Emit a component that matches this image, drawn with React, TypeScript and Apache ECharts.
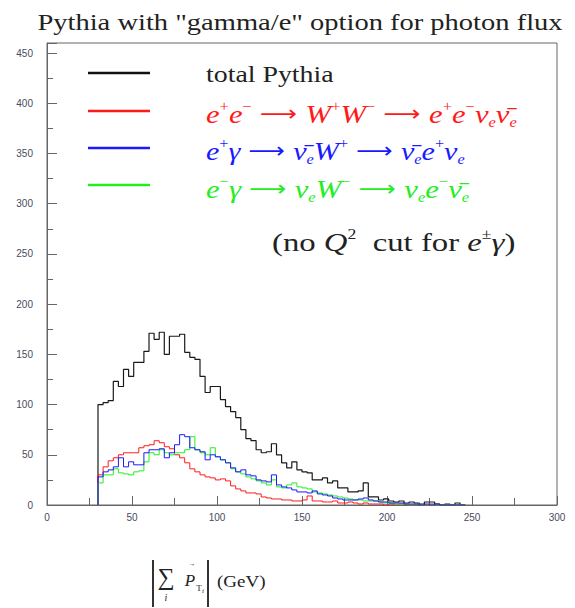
import React, { useEffect, useRef } from "react";
import * as echarts from "echarts";

// Histogram binning (GeV)
const binStart = 30;
const binWidth = 3;

// Bin contents (72 bins, 30 → 246 GeV)
const totalPythia = [100, 102, 104, 123, 118, 135, 128, 142, 142, 153, 171, 165, 172, 150, 168, 168, 170, 152, 147, 145, 128, 112, 118, 118, 105, 98, 93, 87, 75, 66, 64, 55, 52, 53, 61, 50, 42, 37, 43, 35, 33, 32, 25, 25, 27, 22, 24, 17, 17, 13, 13, 14, 22, 8, 8, 5, 6, 4, 3, 4, 2, 3, 2, 1, 3, 3, 1, 0, 1, 0, 2, 0];
const eeWW = [30, 38, 44, 47, 50, 52, 52, 52, 57, 59, 60, 64, 62, 58, 56, 50, 47, 42, 36, 33, 30, 28, 27, 25, 26, 24, 19, 16, 14, 12, 12, 11, 8, 7, 6, 6, 5, 5, 4, 4, 5, 9, 4, 4, 3, 3, 4, 2, 2, 3, 2, 1, 2, 1, 1, 1, 0, 1, 0, 1, 0, 0, 1, 0, 0, 1, 0, 0, 0, 0, 0, 0];
const epGamma = [28, 33, 35, 38, 47, 38, 43, 40, 40, 52, 55, 55, 56, 47, 52, 60, 70, 68, 57, 55, 53, 45, 50, 48, 45, 42, 37, 33, 35, 30, 29, 25, 24, 23, 30, 20, 18, 17, 15, 13, 13, 12, 14, 11, 10, 9, 7, 6, 5, 5, 5, 6, 7, 5, 4, 3, 3, 2, 2, 2, 1, 1, 1, 0, 1, 0, 1, 0, 0, 0, 0, 0];
const emGamma = [22, 30, 30, 36, 32, 31, 30, 33, 34, 43, 52, 50, 55, 52, 50, 52, 52, 55, 68, 55, 52, 50, 57, 48, 45, 42, 36, 33, 31, 28, 26, 24, 22, 20, 25, 18, 17, 20, 22, 18, 17, 16, 13, 12, 11, 10, 9, 8, 7, 6, 5, 5, 4, 4, 4, 3, 2, 2, 1, 1, 1, 0, 1, 0, 0, 0, 0, 0, 0, 0, 0, 0];

const xTicks = { min: 0, max: 300, step: 50 };
const yTicks = { min: 0, max: 460, step: 50 };

const titleText = 'Pythia with "gamma/e" option for photon flux';

function toSteps(vals: number[]): number[][] {
  const pts: number[][] = [[binStart, 0]];
  vals.forEach((v, i) => pts.push([binStart + i * binWidth, v]));
  pts.push([binStart + vals.length * binWidth, vals[vals.length - 1]]);
  return pts;
}

const SERIF = '"Liberation Serif", "DejaVu Serif", serif';

function richStyles(color: string, fs: number) {
  const sup = Math.round(fs * 0.55);
  return {
    i: { fontFamily: SERIF, fontStyle: "italic", fontSize: fs, lineHeight: 30, fill: color, color },
    r: { fontFamily: SERIF, fontSize: fs, lineHeight: 30, fill: color, color },
    ar: { fontFamily: '"DejaVu Sans", sans-serif', fontSize: fs - 4, lineHeight: 30, fill: color, color },
    sp: { fontFamily: SERIF, fontSize: sup, lineHeight: 14, verticalAlign: "top", fill: color, color },
    sb: { fontFamily: SERIF, fontStyle: "italic", fontSize: sup, lineHeight: 13, verticalAlign: "bottom", fill: color, color },
  };
}

function legendText(text: string, color: string, y: number, x: number, scaleX: number, fs: number) {
  return {
    type: "text",
    x,
    y,
    scaleX,
    z: 100,
    style: {
      text,
      rich: richStyles(color, fs),
      fill: color,
      align: "left",
      textAlign: "left",
      verticalAlign: "middle",
      textVerticalAlign: "middle",
      fontFamily: SERIF,
      fontSize: fs,
    },
  };
}

function txt(x: number, y: number, text: string, fontSize: number, italic = false, align = "center") {
  return {
    type: "text",
    x,
    y,
    style: {
      text,
      fill: "#222",
      fontFamily: SERIF,
      fontStyle: italic ? "italic" : "normal",
      fontSize,
      align,
      textAlign: align,
      verticalAlign: "middle",
      textVerticalAlign: "middle",
    },
  };
}

export default function App() {
  const ref = useRef<HTMLDivElement>(null);
  useEffect(() => {
    if (!ref.current) return;
    const chart = echarts.init(ref.current, null, { renderer: "svg" });
    const red = "#ff1a1a";
    const blue = "#1a1aff";
    const green = "#22ee22";
    const nubar = "\u03BD\u0304";
    const arrow = "{ar| \u27F6 }";
    const option: any = {
      animation: false,
      backgroundColor: "#ffffff",
      grid: { left: 47, right: 18, top: 43, bottom: 103, show: true, borderColor: "#666", borderWidth: 1 },
      xAxis: {
        type: "value",
        min: xTicks.min,
        max: xTicks.max,
        interval: xTicks.step,
        axisLine: { show: true, lineStyle: { color: "#666", width: 1 } },
        axisTick: { show: true, inside: true, length: 9, lineStyle: { color: "#666" } },
        minorTick: { show: true, splitNumber: 2, length: 7, lineStyle: { color: "#666" } },
        splitLine: { show: false },
        axisLabel: { fontSize: 10, color: "#4a4a60", margin: 7, fontFamily: "Liberation Sans" },
      },
      yAxis: {
        type: "value",
        min: yTicks.min,
        max: yTicks.max,
        interval: yTicks.step,
        axisLine: { show: true, lineStyle: { color: "#666", width: 1 } },
        axisTick: { show: true, inside: true, length: 10, lineStyle: { color: "#666" } },
        minorTick: { show: true, splitNumber: 2, length: 6, lineStyle: { color: "#666" } },
        splitLine: { show: false },
        axisLabel: {
          fontSize: 10,
          color: "#4a4a60",
          margin: 14,
          fontFamily: "Liberation Sans",
          showMaxLabel: false,
          formatter: (v: number) => (v % yTicks.step === 0 ? String(v) : ""),
        },
      },
      series: [
        { name: "total Pythia", type: "line", step: "end", data: toSteps(totalPythia), symbol: "none", lineStyle: { color: "#1a1a1a", width: 1.2 }, z: 2 },
        { name: "ee", type: "line", step: "end", data: toSteps(eeWW), symbol: "none", lineStyle: { color: red, width: 1 }, z: 3 },
        { name: "e-gamma", type: "line", step: "end", data: toSteps(emGamma), symbol: "none", lineStyle: { color: green, width: 1 }, z: 4 },
        { name: "e+gamma", type: "line", step: "end", data: toSteps(epGamma), symbol: "none", lineStyle: { color: blue, width: 1 }, z: 5 },
      ],
      graphic: [
        {
          type: "text",
          x: 300,
          y: 22,
          scaleX: 1.24,
          style: {
            text: titleText,
            fill: "#222",
            fontFamily: SERIF,
            fontSize: 23,
            align: "center",
            textAlign: "center",
            verticalAlign: "middle",
            textVerticalAlign: "middle",
          },
        },
        { type: "line", shape: { x1: 88, y1: 73, x2: 150, y2: 73 }, style: { stroke: "#111", lineWidth: 2.5 } },
        { type: "line", shape: { x1: 88, y1: 111, x2: 150, y2: 111 }, style: { stroke: red, lineWidth: 2.5 } },
        { type: "line", shape: { x1: 88, y1: 148, x2: 150, y2: 148 }, style: { stroke: blue, lineWidth: 2.5 } },
        { type: "line", shape: { x1: 88, y1: 185, x2: 150, y2: 185 }, style: { stroke: green, lineWidth: 2.5 } },
        legendText("{r|total Pythia}", "#222", 74, 206, 1.16, 24),
        legendText(
          `{i|e}{sp|+}{i|e}{sp|\u2212}${arrow}{i|W}{sp|+}{i|W}{sp|\u2212}${arrow}{i|e}{sp|+}{i|e}{sp|\u2212}{i|\u03BD}{sb|e}{i|${nubar}}{sb|e}`,
          red,
          114,
          206,
          1.18,
          26
        ),
        legendText(
          `{i|e}{sp|+}{i|\u03B3}${arrow}{i|${nubar}}{sb|e}{i|W}{sp|+}${arrow}{i|${nubar}}{sb|e}{i|e}{sp|+}{i|\u03BD}{sb|e}`,
          blue,
          151,
          206,
          1.16,
          26
        ),
        legendText(
          `{i|e}{sp|\u2212}{i|\u03B3}${arrow}{i|\u03BD}{sb|e}{i|W}{sp|\u2212}${arrow}{i|\u03BD}{sb|e}{i|e}{sp|\u2212}{i|${nubar}}{sb|e}`,
          green,
          189,
          206,
          1.18,
          26
        ),
        legendText(
          "{r|(no }{i|Q}{sp|2}{r|  cut for }{i|e}{sp|\u00B1}{i|\u03B3}{r|)}",
          "#222",
          242,
          272,
          1.26,
          26
        ),
        // x-axis title: | Σ_i P⃗_Ti | (GeV)
        { type: "rect", shape: { x: 152, y: 560, width: 2, height: 47 }, style: { fill: "#333" } },
        { type: "rect", shape: { x: 207, y: 560, width: 2, height: 47 }, style: { fill: "#333" } },
        txt(166, 577, "\u2211", 24),
        txt(166, 597, "i", 10, true),
        txt(190, 580, "P", 17, true),
        txt(192, 564, "\u2192", 7),
        txt(199, 588, "T", 9),
        txt(203, 591, "i", 7, true),
        { ...txt(217, 581, "(GeV)", 17, false, "left"), scaleX: 1.12 },
      ],
    };
    chart.setOption(option);
    return () => chart.dispose();
  }, []);
  return (
    <div
      ref={ref}
      style={{ position: "fixed", left: 0, top: 0, width: 575, height: 608, background: "#fff" }}
    />
  );
}
